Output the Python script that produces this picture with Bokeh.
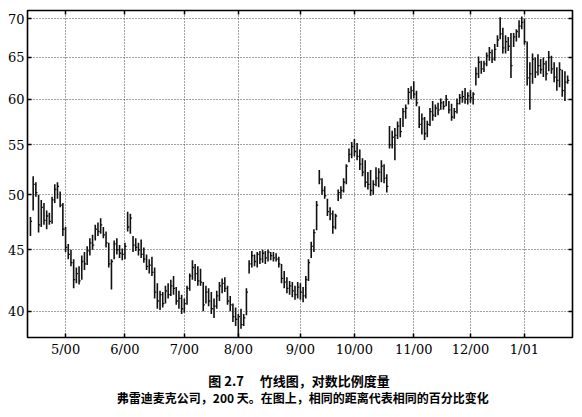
from bokeh.plotting import figure
from bokeh.layouts import column
from bokeh.models import FixedTicker, LinearAxis, LogAxis, ColumnDataSource
from bokeh.core.properties import value
from bokeh.embed import file_html
from bokeh.resources import INLINE

# ---- data ----
high = [47.9, 51.8, 51.2, 50.0, 49.5, 49.2, 48.5, 48.3, 49.8, 51.0,
        51.2, 50.3, 49.2, 47.0, 45.5, 45.0, 44.2, 43.5, 43.6, 44.5,
        44.8, 45.3, 46.0, 46.3, 47.2, 47.4, 47.8, 47.0, 46.6, 45.6,
        44.2, 45.8, 46.0, 45.4, 45.1, 45.6, 48.4, 48.2, 46.2, 46.0,
        45.6, 45.9, 45.2, 44.6, 44.2, 44.4, 43.5, 42.2, 41.6, 41.5,
        42.0, 42.2, 42.5, 42.8, 41.9, 41.6, 41.3, 41.0, 42.0, 43.0,
        44.1, 43.8, 43.6, 43.4, 42.3, 42.0, 41.8, 41.5, 41.0, 41.6,
        42.3, 42.6, 42.7, 42.0, 41.2, 40.6, 40.3, 39.8, 40.2, 39.8,
        41.8, 44.1, 44.9, 44.6, 44.8, 44.9, 45.0, 44.9, 45.0, 44.8,
        44.8, 44.7, 44.4, 43.8, 43.2, 42.7, 42.4, 42.3, 42.0, 42.3,
        42.2, 41.9, 42.8, 44.2, 45.7, 46.8, 49.4, 52.4, 51.6, 50.8,
        49.6, 48.8, 48.5, 48.2, 50.5, 50.8, 51.6, 53.0, 54.6, 55.3,
        55.6, 55.2, 54.5, 53.6, 53.4, 52.2, 52.4, 51.4, 52.7, 52.6,
        53.4, 53.0, 52.0, 57.0, 56.5, 56.8, 57.5, 57.9, 59.0, 59.4,
        61.3, 61.5, 62.1, 61.0, 59.2, 58.4, 58.0, 57.6, 59.0, 59.8,
        59.4, 59.6, 60.1, 59.8, 60.5, 59.8, 59.5, 59.0, 60.1, 60.6,
        61.0, 61.3, 60.8, 61.1, 60.8, 63.8, 65.1, 64.6, 64.6, 65.6,
        66.3, 66.0, 66.7, 67.8, 70.2, 68.8, 67.8, 67.6, 68.1, 68.1,
        68.6, 69.8, 70.3, 70.0, 67.0, 64.4, 65.5, 65.0, 65.4, 64.8,
        65.0, 64.6, 65.8, 65.2, 64.4, 63.8, 64.4, 63.5, 63.3, 62.8]
low = [46.2, 48.5, 49.8, 46.5, 47.0, 47.2, 46.8, 47.2, 47.3, 49.2,
       49.6, 48.8, 46.2, 44.8, 44.2, 43.6, 41.8, 42.2, 42.1, 42.5,
       43.3, 43.7, 44.5, 45.0, 45.8, 46.2, 46.4, 46.0, 45.2, 43.5,
       41.7, 44.2, 44.6, 44.3, 44.1, 44.2, 46.6, 46.4, 44.8, 44.9,
       44.5, 44.3, 43.9, 43.3, 43.0, 42.8, 41.0, 40.2, 40.1, 40.3,
       40.6, 41.0, 41.2, 41.3, 40.5, 40.2, 39.8, 39.9, 40.5, 41.6,
       42.5, 42.4, 42.0, 42.0, 40.0, 40.6, 40.4, 39.8, 39.5, 40.2,
       40.8, 41.4, 41.5, 40.5, 40.0, 39.2, 38.9, 38.1, 38.7, 38.9,
       39.7, 43.0, 43.5, 43.6, 43.5, 43.8, 43.9, 43.8, 44.0, 44.1,
       44.0, 44.0, 43.5, 42.2, 41.8, 41.4, 41.3, 41.1, 40.9, 41.0,
       40.9, 40.7, 41.0, 42.4, 44.3, 44.8, 46.7, 51.0, 50.0, 49.6,
       48.0, 47.6, 46.4, 46.8, 49.4, 49.6, 50.2, 51.0, 53.2, 53.6,
       53.8, 53.4, 52.4, 51.8, 50.7, 50.5, 49.9, 50.0, 50.8, 50.7,
       51.2, 51.1, 50.2, 54.6, 54.6, 53.4, 55.6, 55.8, 56.9, 57.8,
       59.4, 60.0, 60.1, 59.2, 56.8, 56.1, 55.5, 55.8, 57.0, 57.6,
       58.0, 58.2, 58.8, 58.8, 59.2, 58.4, 57.6, 57.8, 58.4, 59.4,
       59.6, 59.5, 59.4, 59.6, 59.4, 61.6, 62.5, 63.0, 63.2, 63.9,
       64.6, 64.3, 64.6, 66.3, 67.3, 65.5, 65.5, 65.8, 62.5, 66.3,
       67.0, 67.5, 68.6, 66.6, 61.6, 58.8, 61.8, 62.5, 62.8, 63.0,
       62.6, 62.2, 63.3, 63.0, 62.0, 61.0, 61.4, 60.3, 59.8, 61.8]
close = [47.5, 51.0, 50.2, 47.2, 48.8, 47.6, 48.0, 47.5, 49.5, 50.5,
         50.8, 49.0, 46.8, 45.2, 44.6, 43.9, 42.5, 43.0, 42.4, 44.0,
         43.8, 44.9, 45.6, 45.4, 46.8, 46.6, 47.2, 46.3, 45.6, 43.8,
         44.0, 45.5, 45.0, 44.7, 44.6, 45.3, 47.0, 47.8, 45.4, 45.2,
         45.0, 44.6, 44.2, 43.6, 43.7, 43.1, 41.5, 40.8, 41.3, 40.6,
         41.6, 41.3, 42.0, 41.8, 40.8, 41.0, 40.2, 40.6, 41.8, 42.8,
         43.5, 43.0, 42.4, 42.3, 40.5, 41.5, 40.8, 40.2, 40.4, 41.2,
         42.0, 42.2, 41.8, 40.8, 40.5, 39.6, 39.4, 39.6, 39.0, 39.5,
         41.5, 43.8, 44.5, 44.0, 44.6, 44.2, 44.7, 44.3, 44.8, 44.5,
         44.3, 44.2, 43.8, 42.6, 42.3, 41.8, 42.0, 41.6, 41.3, 41.9,
         41.5, 41.2, 42.5, 43.9, 45.3, 46.5, 49.0, 51.5, 50.4, 49.9,
         48.4, 48.2, 47.0, 48.0, 50.2, 50.4, 51.2, 52.8, 54.0, 54.8,
         54.3, 53.8, 53.0, 52.2, 51.2, 51.0, 50.4, 51.0, 51.6, 52.2,
         52.8, 51.6, 50.8, 55.0, 55.8, 56.0, 57.0, 56.4, 58.6, 59.0,
         60.8, 61.0, 60.6, 59.6, 57.2, 57.8, 56.2, 57.2, 58.6, 58.2,
         59.0, 58.8, 59.6, 59.2, 60.0, 58.8, 58.0, 58.6, 59.5, 60.2,
         60.3, 60.0, 60.4, 60.2, 60.6, 63.0, 64.4, 63.6, 64.2, 65.2,
         65.6, 64.8, 66.0, 67.2, 68.0, 66.2, 67.0, 66.4, 64.0, 67.6,
         68.3, 69.0, 69.5, 67.0, 62.5, 63.0, 64.8, 63.2, 64.0, 63.5,
         64.2, 63.0, 65.0, 63.6, 62.6, 62.2, 63.5, 61.0, 62.0, 62.2]
day = list(range(len(high)))

month_ticks = [13, 35, 57, 77, 100, 120, 142, 163, 183]
month_labels = ["5/00", "6/00", "7/00", "8/00", "9/00", "10/00", "11/00", "12/00", "1/01"]
price_ticks = [40, 45, 50, 55, 60, 65, 70]

caption1 = "图 2.7 \u3000竹线图，对数比例度量"
caption2 = "弗雷迪麦克公司，200 天。在图上，相同的距离代表相同的百分比变化"

# ---- main chart ----
p = figure(width=574, height=360, y_axis_type="log",
           x_range=(-1.1, 200.8), y_range=(38.05, 71.1),
           output_backend="svg", toolbar_location=None,
           min_border_left=27, min_border_right=2, min_border_top=10,
           min_border_bottom=23)
p.outline_line_color = "black"
p.outline_line_width = 1.6
p.background_fill_color = "white"
p.border_fill_color = "white"

src = ColumnDataSource(dict(day=day, high=high, low=low, close=close,
                            tick_end=[d + 0.6 for d in day]))
p.segment(x0="day", y0="low", x1="day", y1="high", source=src,
          line_color="#111111", line_width=1.6)
p.segment(x0="day", y0="close", x1="tick_end", y1="close", source=src,
          line_color="#111111", line_width=1.3)

label_font = "DejaVu Serif"

xa = p.xaxis[0]
xa.ticker = FixedTicker(ticks=month_ticks)
xa.major_label_overrides = {t: l for t, l in zip(month_ticks, month_labels)}
xa.minor_tick_line_color = None
xa.major_tick_in = 4
xa.major_tick_out = 0
xa.major_tick_line_width = 1.5
xa.axis_line_color = None
xa.major_label_standoff = 4
xa.major_label_text_font = label_font
xa.major_label_text_font_size = "13px"
xa.major_label_text_color = "black"

ya = p.yaxis[0]
ya.ticker = FixedTicker(ticks=price_ticks)
ya.major_label_overrides = {t: str(t) for t in price_ticks}
ya.minor_tick_line_color = None
ya.major_tick_in = 4
ya.major_tick_out = 0
ya.major_tick_line_width = 1.5
ya.axis_line_color = None
ya.major_label_standoff = 3
ya.major_label_text_font = label_font
ya.major_label_text_font_size = "13px"
ya.major_label_text_color = "black"

# top and right axes: inward ticks only, no labels
ta = LinearAxis(ticker=FixedTicker(ticks=month_ticks), major_tick_in=4, major_tick_out=0,
                major_tick_line_width=1.5, minor_tick_line_color=None, axis_line_color=None,
                major_label_text_font_size="0px", major_label_text_color=None,
                major_label_standoff=0)
p.add_layout(ta, "above")
ra = LogAxis(ticker=FixedTicker(ticks=price_ticks), major_tick_in=4, major_tick_out=0,
             major_tick_line_width=1.5, minor_tick_line_color=None, axis_line_color=None,
             major_label_text_font_size="0px", major_label_text_color=None,
             major_label_standoff=0)
p.add_layout(ra, "right")

p.xgrid.ticker = FixedTicker(ticks=month_ticks)
p.ygrid.ticker = FixedTicker(ticks=price_ticks)
for g in (p.xgrid[0], p.ygrid[0]):
    g.grid_line_color = "#444444"
    g.grid_line_dash = "1 2"
    g.grid_line_width = 1

# ---- caption strip ----
cap = figure(width=574, height=49, x_range=(0, 574), y_range=(49, 0),
             output_backend="svg", toolbar_location=None,
             x_axis_location=None, y_axis_location=None, min_border=0)
cap.outline_line_color = None
cap.grid.visible = False
cap.text(x=[286], y=[19.5], text=[caption1], text_font=value("Noto Sans CJK SC"),
         text_font_style="bold", text_font_size="13px", text_align="center",
         text_baseline="middle", text_color="black")
cap.text(x=[290], y=[37], text=[caption2], text_font=value("Noto Sans CJK SC"),
         text_font_style="bold", text_font_size="12px", text_align="center",
         text_baseline="middle", text_color="black")

layout = column(p, cap, spacing=0)
open("out.html", "w").write(file_html(layout, INLINE))
